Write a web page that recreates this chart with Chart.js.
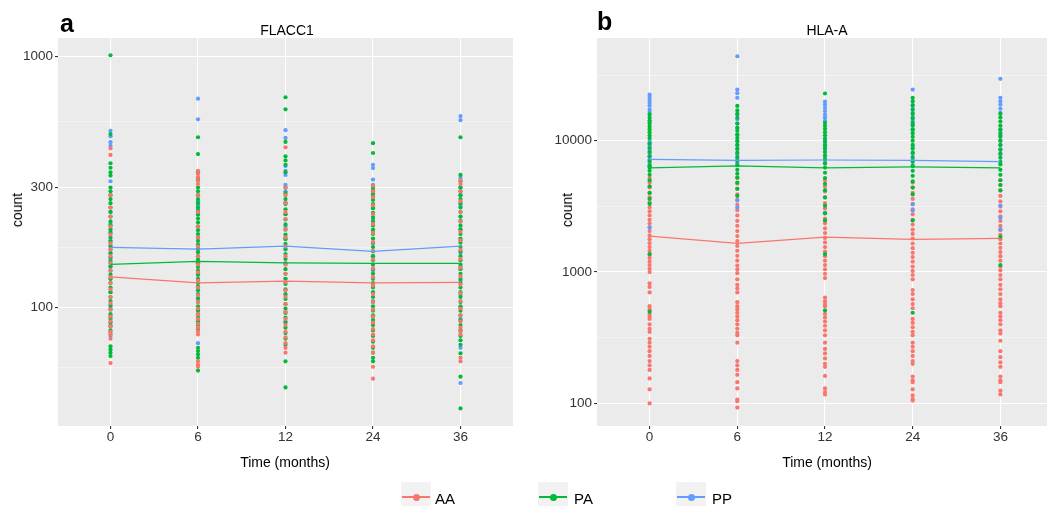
<!DOCTYPE html>
<html><head><meta charset="utf-8">
<script src="https://cdn.jsdelivr.net/npm/chart.js@4/dist/chart.umd.min.js"></script>
<style>
html,body{margin:0;padding:0;background:#fff;overflow:hidden;width:1047px;height:506px;}
body{position:relative;font-family:"Liberation Sans",Arial,sans-serif;}
.t{position:absolute;white-space:nowrap;line-height:1;color:#000;}
.c{transform:translateX(-50%);}
canvas{position:absolute;top:0;}
.key{position:absolute;top:482px;width:30px;height:24px;background:#F2F2F2;}
.key .ln{position:absolute;left:1px;right:1px;top:14px;height:2px;}
.key .dt{position:absolute;left:11.5px;top:11.5px;width:7px;height:7px;border-radius:50%;}
</style></head><body>
<canvas id="ca" width="530" height="506" style="left:0;width:530px;height:506px"></canvas>
<canvas id="cb" width="527" height="506" style="left:530px;width:527px;height:506px"></canvas>

<div class="t" style="left:60px;top:11px;font-size:25px;font-weight:bold">a</div>
<div class="t" style="left:597px;top:9px;font-size:25px;font-weight:bold">b</div>
<div class="t c" style="left:287px;top:22.5px;font-size:14px">FLACC1</div>
<div class="t c" style="left:827px;top:22.5px;font-size:14px">HLA-A</div>
<div class="t" style="left:16.5px;top:210px;font-size:14px;transform:translate(-50%,-50%) rotate(-90deg)">count</div>
<div class="t" style="left:566.5px;top:210px;font-size:14px;transform:translate(-50%,-50%) rotate(-90deg)">count</div>
<div class="t c" style="left:285px;top:455px;font-size:14px">Time (months)</div>
<div class="t c" style="left:827px;top:455px;font-size:14px">Time (months)</div>

<div class="key" style="left:401px"><div class="ln" style="background:#F8766D"></div><div class="dt" style="background:#F8766D"></div></div>
<div class="t" style="left:435px;top:490.5px;font-size:15px">AA</div>
<div class="key" style="left:538px"><div class="ln" style="background:#00BA38"></div><div class="dt" style="background:#00BA38"></div></div>
<div class="t" style="left:574px;top:490.5px;font-size:15px">PA</div>
<div class="key" style="left:676px"><div class="ln" style="background:#619CFF"></div><div class="dt" style="background:#619CFF"></div></div>
<div class="t" style="left:712px;top:490.5px;font-size:15px">PP</div>

<script>
// ---------- categories ----------
const TIMES = ['0', '6', '12', '24', '36'];
const GROUPS = ['AA', 'PA', 'PP'];

// ---------- FLACC1 (panel a): individual counts per time point ----------
const FLACC1_AA = [
  [405, 430, 280, 250, 230, 210, 195, 180, 170, 160, 150, 140, 132, 125, 118, 110, 104, 98, 92, 88, 84, 80, 78, 75, 60],
  [350, 340, 330, 320, 310, 280, 240, 210, 190, 175, 160, 148, 138, 128, 120, 112, 105, 99, 94, 90, 86, 83, 80, 78, 61, 59, 58],
  [434, 300, 280, 260, 240, 225, 205, 190, 175, 160, 148, 136, 126, 117, 110, 103, 96, 90, 85, 80, 76, 72, 69, 66],
  [305, 290, 275, 255, 235, 215, 198, 182, 168, 155, 143, 132, 122, 113, 105, 98, 92, 87, 82, 78, 74, 70, 66, 58, 52],
  [320, 310, 290, 265, 240, 220, 200, 185, 170, 156, 144, 133, 123, 114, 106, 99, 93, 88, 83, 80, 78, 63, 61]
];
const FLACC1_PA = [
  [1010, 490, 375, 360, 345, 335, 300, 290, 280, 270, 260, 250, 240, 230, 220, 212, 205, 198, 190, 183, 176, 170, 164, 158, 152, 146, 140, 135, 130, 125, 120, 115, 110, 106, 102, 98, 94, 90, 87, 84, 81, 70, 68, 66, 64],
  [476, 408, 345, 325, 300, 290, 280, 270, 260, 250, 242, 234, 226, 218, 210, 203, 196, 190, 184, 178, 172, 166, 160, 155, 150, 145, 140, 135, 130, 125, 121, 117, 113, 109, 105, 101, 97, 94, 91, 88, 85, 82, 69, 67, 65, 63, 56],
  [687, 615, 456, 400, 385, 370, 345, 300, 285, 270, 258, 246, 235, 224, 214, 204, 195, 187, 179, 171, 163, 156, 149, 142, 136, 130, 124, 118, 113, 108, 103, 99, 95, 91, 87, 83, 79, 75, 71, 61, 48],
  [451, 412, 300, 292, 284, 276, 268, 258, 248, 238, 229, 220, 212, 204, 196, 188, 181, 174, 167, 160, 154, 148, 142, 136, 130, 125, 120, 115, 110, 105, 101, 97, 93, 89, 85, 81, 77, 73, 69, 66, 63, 61],
  [476, 337, 318, 300, 290, 280, 270, 260, 250, 240, 230, 221, 212, 204, 196, 188, 181, 174, 167, 160, 154, 148, 142, 136, 130, 125, 120, 115, 110, 105, 101, 97, 93, 89, 85, 81, 77, 74, 71, 65.6, 53, 39.6]
];
const FLACC1_PP = [
  [505, 480, 455, 440, 318, 240, 215, 200, 185, 175, 165, 155, 145, 130, 115, 100, 92, 85, 79, 77],
  [678, 561, 320, 265, 255, 245, 235, 210, 190, 170, 150, 135, 120, 108, 98, 90, 72],
  [508, 473, 366, 350, 337, 308, 290, 262, 235, 210, 190, 170, 150, 130, 112, 96, 88],
  [370, 359, 323, 308, 280, 250, 225, 200, 180, 160, 140, 122, 106, 92],
  [578, 557, 328, 300, 280, 255, 230, 205, 185, 165, 145, 128, 112, 100, 90, 69, 50]
];
// group means (lines)
const FLACC1_MEAN_AA = [132.4, 125.3, 127.3, 125.3, 125.8];
const FLACC1_MEAN_PA = [148.4, 152.5, 150.5, 149.7, 149.7];
const FLACC1_MEAN_PP = [173.4, 170.7, 175.5, 167.2, 175.5];

// ---------- HLA-A (panel b) ----------
const HLAA_AA = [
  [5200, 4800, 4400, 4000, 3700, 3400, 3100, 2900, 2700, 2500, 2350, 2200, 2050, 1900, 1780, 1660, 1550, 1450, 1360, 1280, 1200, 1130, 1060, 1000, 820, 770, 700, 550, 520, 480, 460, 440, 400, 370, 350, 310, 290, 270, 250, 230, 210, 195, 180, 155, 128, 100],
  [5200, 4700, 4300, 3900, 3550, 3250, 2950, 2700, 2450, 2250, 2050, 1880, 1720, 1580, 1450, 1330, 1220, 1120, 1050, 980, 880, 800, 750, 700, 590, 550, 520, 490, 460, 430, 400, 370, 345, 330, 290, 210, 195, 180, 165, 145, 130, 107, 104, 93],
  [5000, 4500, 4100, 3700, 3350, 3050, 2800, 2550, 2350, 2150, 1980, 1820, 1680, 1550, 1430, 1320, 1220, 1130, 1050, 970, 900, 640, 600, 570, 550, 480, 450, 420, 390, 360, 330, 290, 260, 240, 220, 200, 190, 162, 130, 122, 117],
  [4800, 4400, 4000, 3600, 3300, 3000, 2750, 2500, 2300, 2100, 1950, 1800, 1650, 1520, 1400, 1300, 1200, 1100, 1020, 950, 880, 730, 680, 620, 570, 530, 440, 410, 380, 350, 330, 290, 270, 250, 230, 210, 200, 160, 150, 145, 128, 115, 108, 105],
  [5000, 4600, 4200, 3800, 3450, 3150, 2900, 2650, 2450, 2250, 2080, 1920, 1780, 1650, 1530, 1420, 1320, 1220, 1100, 1030, 950, 880, 800, 740, 680, 620, 580, 550, 490, 460, 430, 400, 360, 340, 300, 250, 225, 205, 190, 160, 150, 145, 125, 117]
];
const HLAA_PA = [
  [15850, 15000, 14200, 13500, 12800, 12200, 11600, 11000, 10500, 9500, 8800, 8200, 7600, 7000, 6500, 6240, 5900, 5500, 5000, 4500, 4000, 3600, 3300, 1370, 500],
  [18400, 17000, 16000, 14950, 13500, 12500, 11900, 11200, 10500, 9900, 9300, 8700, 8100, 7500, 7000, 6500, 6000, 5600, 5240, 4800, 4300, 3800],
  [22870, 13700, 13000, 12300, 11600, 11000, 10400, 9800, 9200, 8700, 8200, 7700, 7200, 6700, 6240, 5700, 5200, 4700, 4200, 3700, 3200, 2800, 2470, 1370, 510],
  [21200, 20000, 18500, 17200, 16000, 14800, 13700, 13000, 12200, 11400, 10700, 10000, 9300, 8700, 8100, 7500, 6900, 6400, 5900, 5400, 4900, 4400, 3900, 2470, 490],
  [16000, 15000, 14000, 13000, 12200, 11400, 10700, 10000, 9300, 8600, 8000, 7400, 6900, 6600, 6000, 5500, 5000, 4600, 4170, 1850, 1130]
];
const HLAA_PP = [
  [22480, 21500, 20500, 19500, 18500, 17300, 16500, 14000, 10000, 9600, 9200, 8800, 8400, 8000, 7600, 7200, 6800, 6400, 2180],
  [43950, 24500, 23000, 21200, 15850, 14500, 13500, 12550, 11000, 10000, 9200, 8600, 7900, 7300, 6700, 3500, 3100],
  [19800, 18800, 17800, 16800, 15800, 15000, 14200, 10000, 9400, 8800, 8200, 7500, 6800, 2840],
  [24500, 18800, 17500, 16300, 15200, 14200, 13300, 12000, 9000, 8000, 7200, 6500, 3270, 2940],
  [29560, 21200, 20000, 18800, 17500, 16300, 12000, 11000, 10000, 9200, 8500, 7800, 3210, 2600, 2120]
];
const HLAA_MEAN_AA = [1876, 1651, 1844, 1771, 1802];
const HLAA_MEAN_PA = [6206, 6427, 6206, 6310, 6206];
const HLAA_MEAN_PP = [7211, 7086, 7130, 7086, 6930];

// ---------- y-axis breaks ----------
const FLACC1_MAJOR = [100, 300, 1000];
const FLACC1_MINOR = [57.7, 173.2, 547.7];
const HLAA_MAJOR = [100, 1000, 10000];
const HLAA_MINOR = [316.2, 3162.3, 31622.8];

const COLORS = { AA: '#F8766D', PA: '#00BA38', PP: '#619CFF' };
const FONT = '"Liberation Sans", Arial, sans-serif';

function toPoints(cols) {
  const out = [];
  cols.forEach((col, i) => col.forEach(v => out.push({ x: i, y: v })));
  return out;
}
function toLine(vals) { return vals.map((v, i) => ({ x: i, y: v })); }

const bgPlugin = {
  id: 'panelBg',
  beforeDraw(chart) {
    const a = chart.chartArea, ctx = chart.ctx;
    ctx.save();
    ctx.fillStyle = '#EBEBEB';
    ctx.fillRect(a.left, a.top, a.right - a.left, a.bottom - a.top);
    ctx.restore();
  }
};

function makePanel(id, pts, means, yMin, yMax, majors, minors, yWidth, padRight, ptOrder) {
  const isMajor = v => majors.indexOf(v) >= 0;
  const datasets = [];
  GROUPS.forEach(g => {
    datasets.push({
      type: 'line', label: g + ' mean', data: toLine(means[g]), showLine: true,
      borderColor: COLORS[g], borderWidth: 1.2, pointRadius: 0, fill: false, tension: 0, order: 0
    });
  });
  GROUPS.forEach(g => {
    datasets.push({
      type: 'scatter', label: g, data: toPoints(pts[g]),
      backgroundColor: COLORS[g], borderWidth: 0, pointRadius: 2.1, pointBorderWidth: 0, order: ptOrder[g]
    });
  });
  return new Chart(document.getElementById(id), {
    type: 'scatter',
    data: { datasets },
    options: {
      responsive: false, animation: false, events: [],
      layout: { padding: { top: 38, right: padRight, bottom: 0, left: 0 } },
      plugins: { legend: { display: false }, tooltip: { enabled: false } },
      scales: {
        x: {
          type: 'linear', min: -0.6, max: 4.6,
          afterBuildTicks: s => { s.ticks = TIMES.map((t, i) => ({ value: i })); },
          afterFit: s => { s.height = 80; },
          grid: { color: '#FFFFFF', lineWidth: 1.1, tickLength: 3, tickColor: '#333333' },
          border: { display: false },
          ticks: { autoSkip: false, maxRotation: 0, padding: 0, color: '#333333',
                   font: { family: FONT, size: 13.5 }, callback: v => TIMES[v] }
        },
        y: {
          type: 'logarithmic', min: yMin, max: yMax,
          afterBuildTicks: s => { s.ticks = majors.concat(minors).map(v => ({ value: v })); },
          afterFit: s => { s.width = yWidth; },
          grid: {
            color: ctx => isMajor(ctx.tick.value) ? '#FFFFFF' : 'rgba(255,255,255,0.75)',
            lineWidth: ctx => isMajor(ctx.tick.value) ? 1.1 : 0.55,
            tickLength: 3,
            tickColor: ctx => isMajor(ctx.tick.value) ? '#333333' : 'rgba(0,0,0,0)'
          },
          border: { display: false },
          ticks: { autoSkip: false, padding: 2, color: '#333333',
                   font: { family: FONT, size: 13.5 },
                   callback: v => isMajor(v) ? String(v) : '' }
        }
      }
    },
    plugins: [bgPlugin]
  });
}

makePanel('ca',
  { AA: FLACC1_AA, PA: FLACC1_PA, PP: FLACC1_PP },
  { AA: FLACC1_MEAN_AA, PA: FLACC1_MEAN_PA, PP: FLACC1_MEAN_PP },
  33.7, 1183, FLACC1_MAJOR, FLACC1_MINOR, 58, 17, { AA: 1, PA: 2, PP: 3 });

makePanel('cb',
  { AA: HLAA_AA, PA: HLAA_PA, PP: HLAA_PP },
  { AA: HLAA_MEAN_AA, PA: HLAA_MEAN_PA, PP: HLAA_MEAN_PP },
  67.3, 60500, HLAA_MAJOR, HLAA_MINOR, 67, 0, { PA: 1, PP: 2, AA: 3 });
</script>
</body></html>
